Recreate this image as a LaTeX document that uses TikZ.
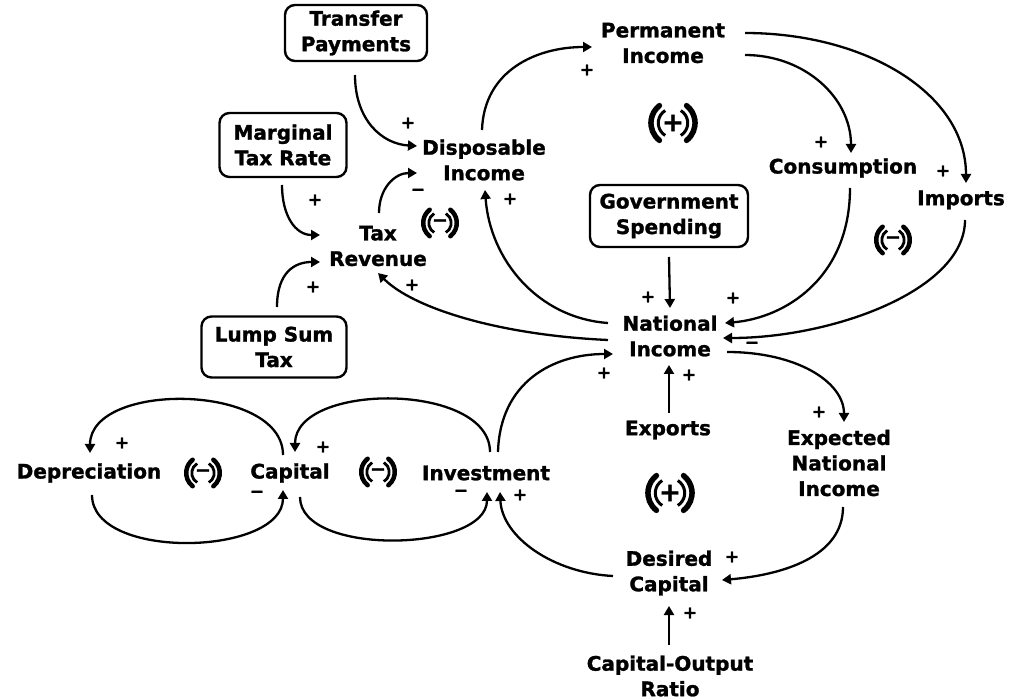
\documentclass[tikz,border=0pt]{standalone}
\usepackage{fontspec}
\setmainfont{DejaVu Sans}[BoldFeatures={FakeBold=1.3}]
\usetikzlibrary{arrows.meta}
\newcommand\loopmark[7]{% name, position, sign, scale, sign size, outer width, inner width
\begin{scope}[shift={#2}, scale=#4]
\node[font=\bfseries\fontsize{#5}{#5}\selectfont, inner sep=0pt] (#1) at (0,0) {#3};
\draw[line width=#6, line cap=round] (128:21) arc[start angle=128,end angle=232,radius=21];
\draw[line width=#6, line cap=round] (52:21) arc[start angle=52,end angle=-52,radius=21];
\draw[line width=#7] (122:14) arc[start angle=122,end angle=238,radius=14];
\draw[line width=#7] (58:14) arc[start angle=58,end angle=-58,radius=14];
\end{scope}}
\begin{document}
\begin{tikzpicture}[x=1pt,y=-1pt,
  lbl/.style={font=\bfseries\fontsize{20}{25.5}\selectfont, align=center, inner sep=0pt},
  boxed/.style={lbl, draw, line width=2.4pt, rounded corners=10pt},
  pol/.style={font=\bfseries\fontsize{17}{17}\selectfont, inner sep=0pt},
  lk/.style={line width=2.3pt, -{Triangle[length=9pt,width=10pt]}}]
\fill[white] (0,0) rectangle (1021,700);
\useasboundingbox (0,0) rectangle (1021,700);

% nodes
\node[boxed, minimum width=142pt, minimum height=56pt] (tp) at (356,33) {Transfer\\Payments};
\node[lbl] (pi) at (663,43) {Permanent\\Income};
\node[boxed, minimum width=127pt, minimum height=64pt] (mtr) at (283,145) {Marginal\\Tax Rate};
\node[lbl] (di) at (484,160) {Disposable\\Income};
\node[lbl] (tr) at (378,246) {Tax\\Revenue};
\node[lbl] (cons) at (843,168) {Consumption};
\node[lbl] (imp) at (961,200) {Imports};
\node[boxed, minimum width=158pt, minimum height=62pt] (gs) at (669,216) {Government\\Spending};
\node[lbl] (ni) at (670,336) {National\\Income};
\node[boxed, minimum width=145pt, minimum height=61pt] (lst) at (274,347) {Lump Sum\\Tax};
\node[lbl] (dep) at (89,473) {Depreciation};
\node[lbl] (cap) at (290,473) {Capital};
\node[lbl] (inv) at (486,473) {Investment};
\node[lbl] (exp) at (668,430) {Exports};
\node[lbl] (eni) at (839,463) {Expected\\National\\Income};
\node[lbl] (dc) at (669,573) {Desired\\Capital};
\node[lbl] (cor) at (670,676) {Capital-Output\\Ratio};

% loop symbols
\loopmark{l1}{(440,223)}{−}{0.8}{19}{4.5pt}{2.8pt}
\loopmark{l2}{(673,123)}{+}{1.05}{26}{5.5pt}{3pt}
\loopmark{l3}{(893,240)}{−}{0.8}{19}{4.5pt}{2.8pt}
\loopmark{l4}{(203,473)}{−}{0.8}{19}{4.5pt}{2.8pt}
\loopmark{l5}{(378,472)}{−}{0.8}{19}{4.5pt}{2.8pt}
\loopmark{l6}{(670,493)}{+}{1.05}{26}{5.5pt}{3pt}

% links
\draw[lk] ([shift={(-1,42)}]tp.center) .. controls +(0,45) and +(-35,-2) .. ([shift={(-67,-14)}]di.center);
\draw[lk] ([shift={(-1,40)}]mtr.center) .. controls +(0,30) and +(-25,0) .. ([shift={(-58,-11)}]tr.center);
\draw[lk] ([shift={(3,-40)}]lst.center) .. controls +(0,-35) and +(-25,0) .. ([shift={(-58,16)}]tr.center);
\draw[lk] ([shift={(1,-33)}]tr.center) .. controls +(0,-25) and +(-22,0) .. ([shift={(-67,13)}]di.center);
\draw[lk] ([shift={(-2,-30)}]di.center) .. controls +(2,-60) and +(-55,0) .. ([shift={(-71,4)}]pi.center);
\draw[lk] ([shift={(82,12)}]pi.center) .. controls +(60,0) and +(0,-55) .. ([shift={(8,-15)}]cons.center);
\draw[lk] ([shift={(82,-10)}]pi.center) .. controls +(120,0) and +(0,-90) .. ([shift={(5,-17)}]imp.center);
\draw[lk] ([shift={(7,20)}]cons.center) .. controls +(0,90) and +(60,-5) .. ([shift={(55,-13)}]ni.center);
\draw[lk] ([shift={(4,20)}]imp.center) .. controls +(0,70) and +(110,0) .. ([shift={(53,2)}]ni.center);
\draw[lk] ([shift={(0,41)}]gs.center) -- ([shift={(0,-28)}]ni.center);
\draw[lk] ([shift={(-62,-13)}]ni.center) .. controls +(-70,-5) and +(5,70) .. ([shift={(1,30)}]di.center);
\draw[lk] ([shift={(-62,4)}]ni.center) .. controls +(-110,-5) and +(35,35) .. ([shift={(0,27)}]tr.center);
\draw[lk] ([shift={(12,-21)}]inv.center) .. controls +(2,-70) and +(-60,0) .. ([shift={(-57,18)}]ni.center);
\draw[lk] ([shift={(1,-17)}]exp.center) -- ([shift={(-1,29)}]ni.center);
\draw[lk] ([shift={(57,16)}]ni.center) .. controls +(70,0) and +(0,-40) .. ([shift={(5,-41)}]eni.center);
\draw[lk] ([shift={(4,44)}]eni.center) .. controls +(0,50) and +(60,-5) .. ([shift={(53,7)}]dc.center);
\draw[lk] ([shift={(-1,-31)}]cor.center) -- ([shift={(0,33)}]dc.center);
\draw[lk] ([shift={(-56,3)}]dc.center) .. controls +(-60,-3) and +(2,45) .. ([shift={(14,19)}]inv.center);
\draw[lk] ([shift={(4,-21)}]inv.center) .. controls +(0,-70) and +(0,-70) .. ([shift={(5,-21)}]cap.center);
\draw[lk] ([shift={(10,24)}]cap.center) .. controls +(0,60) and +(0,60) .. ([shift={(1,19)}]inv.center);
\draw[lk] ([shift={(-7,-18)}]cap.center) .. controls +(0,-72) and +(0,-72) .. ([shift={(1,-20)}]dep.center);
\draw[lk] ([shift={(3,22)}]dep.center) .. controls +(0,66) and +(0,66) .. ([shift={(-7,17)}]cap.center);

% polarities
\node[pol] (p1) at (408,123) {+};
\node[pol] (p2) at (315,200) {+};
\node[pol] (p3) at (313,287) {+};
\node[pol] (p4) at (418,192) {−};
\node[pol] (p5) at (587,70) {+};
\node[pol] (p6) at (821,142) {+};
\node[pol] (p7) at (943,171) {+};
\node[pol] (p8) at (733,298) {+};
\node[pol] (p9) at (752,345) {−};
\node[pol] (p10) at (648,297) {+};
\node[pol] (p11) at (510,199) {+};
\node[pol] (p12) at (412,285) {+};
\node[pol] (p13) at (604,373) {+};
\node[pol] (p14) at (689,375) {+};
\node[pol] (p15) at (819,412) {+};
\node[pol] (p16) at (732,557) {+};
\node[pol] (p17) at (690,613) {+};
\node[pol] (p18) at (520,495) {+};
\node[pol] (p19) at (323,447) {+};
\node[pol] (p20) at (461,493) {−};
\node[pol] (p21) at (122,443) {+};
\node[pol] (p22) at (257,494) {−};
\end{tikzpicture}
\end{document}
